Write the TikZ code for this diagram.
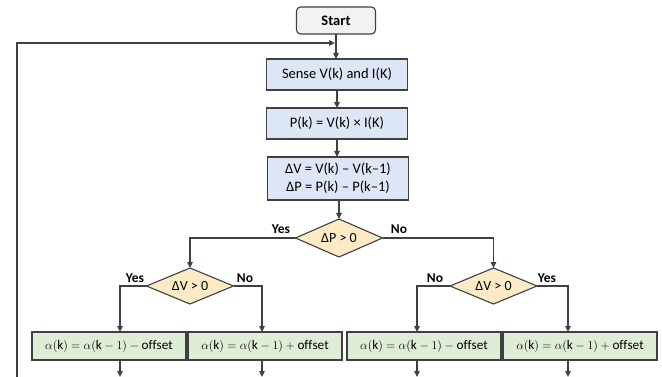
\documentclass[tikz,border=0pt]{standalone}
\usepackage{fontspec}
\setmainfont{Carlito}
\usetikzlibrary{arrows.meta,shapes.geometric}
\definecolor{bordc}{HTML}{404040}
\definecolor{startc}{HTML}{F2F2F2}
\definecolor{bluec}{HTML}{DCE6F4}
\definecolor{yelc}{HTML}{FDEBC6}
\definecolor{grnc}{HTML}{E0EDD6}
\begin{document}
\begin{tikzpicture}[x=1pt,y=-1pt,
  every node/.style={inner sep=0pt,outer sep=0pt},
  startbox/.style={draw=bordc,line width=1.1pt,fill=startc,rounded corners=4pt,minimum width=79pt,minimum height=27pt,font=\fontsize{14.5}{16}\selectfont\bfseries},
  procbox/.style={draw=bordc,line width=1.1pt,fill=bluec,minimum width=141pt,align=center,font=\fontsize{14.5}{18}\selectfont},
  decbox/.style={draw=bordc,line width=1.1pt,fill=yelc,diamond,aspect=2.3,minimum width=87pt,minimum height=38pt,font=\fontsize{14}{16}\selectfont},
  grnbox/.style={draw=bordc,line width=1.1pt,fill=grnc,minimum width=154pt,minimum height=28pt,font=\fontsize{13.2}{15}\selectfont},
  lbl/.style={font=\fontsize{13.5}{15}\selectfont\bfseries},
  conn/.style={draw=bordc,line width=1.1pt},
  arr/.style={conn,-{Triangle[length=6pt,width=5.5pt]}}]
\useasboundingbox (0,0) rectangle (662,377);
% nodes
\node[startbox] (start) at (336,20.5) {Start};
\node[procbox,minimum height=31pt] (sense) at (337,74.5) {Sense V(k) and I(K)};
\node[procbox,minimum height=31pt] (pk) at (337,123.5) {P(k) = V(k) × I(K)};
\node[procbox,minimum height=43pt] (dv) at (338,178.5) {ΔV = V(k) – V(k–1)\\ΔP = P(k) – P(k–1)};
\node[decbox] (dP) at (339,238) {ΔP > 0};
\node[decbox,minimum height=36pt,aspect=2.4] (dV1) at (190,286) {ΔV > 0};
\node[decbox,minimum height=36pt,aspect=2.4] (dV2) at (493.5,286) {ΔV > 0};
\node[grnbox] (g1) at (109,346) {$\alpha(\mathrm{k}) = \alpha(\mathrm{k}-1) - \mathrm{offset}$};
\node[grnbox] (g2) at (265,346) {$\alpha(\mathrm{k}) = \alpha(\mathrm{k}-1) + \mathrm{offset}$};
\node[grnbox] (g3) at (424,346) {$\alpha(\mathrm{k}) = \alpha(\mathrm{k}-1) - \mathrm{offset}$};
\node[grnbox] (g4) at (580,346) {$\alpha(\mathrm{k}) = \alpha(\mathrm{k}-1) + \mathrm{offset}$};
% labels
\node[lbl] (ly0) at (281,229) {Yes};
\node[lbl] (ln0) at (399,229) {No};
\node[lbl] (ly1) at (135,278) {Yes};
\node[lbl] (ln1) at (245,278) {No};
\node[lbl] (ln2) at (435,278) {No};
\node[lbl] (ly2) at (547,278) {Yes};
% coordinates
\coordinate (a1) at (120,332);
\coordinate (a2) at (262,332);
\coordinate (a3) at (417,332);
\coordinate (a4) at (568,332);
\coordinate (b1) at (120,360);
\coordinate (b2) at (262,360);
\coordinate (b3) at (417,360);
\coordinate (b4) at (568,360);
\coordinate (e1) at (120,377);
\coordinate (e2) at (262,377);
\coordinate (e3) at (417,377);
\coordinate (e4) at (568,377);
\coordinate (fb0) at (17,377);
\coordinate (fbj) at (335,43);
% connectors
\draw[arr] (start.south) -- (start.south |- sense.north);
\draw[arr] (fb0) |- (fbj);
\draw[arr] (sense.south) -- (pk.north);
\draw[arr] (pk.south) -- (pk.south |- dv.north);
\draw[arr] (dv.south) -- (dv.south -| dP.north) -- (dP.north);
\draw[arr] (dP.west) -| (dV1.north);
\draw[arr] (dP.east) -| (dV2.north);
\draw[arr] (dV1.west) -| (a1);
\draw[arr] (dV1.east) -| (a2);
\draw[arr] (dV2.west) -| (a3);
\draw[arr] (dV2.east) -| (a4);
\draw[arr] (b1) -- (e1);
\draw[arr] (b2) -- (e2);
\draw[arr] (b3) -- (e3);
\draw[arr] (b4) -- (e4);
\end{tikzpicture}
\end{document}
